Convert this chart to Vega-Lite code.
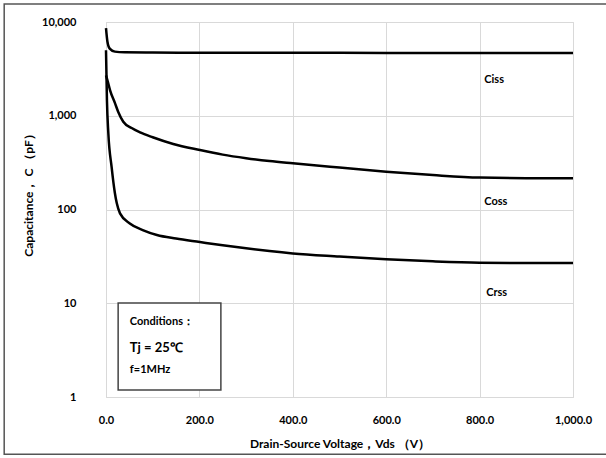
{
  "$schema": "https://vega.github.io/schema/vega-lite/v6.json",
  "width": 467,
  "height": 375,
  "autosize": {"type": "none"},
  "padding": {"left": 106, "top": 22, "right": 33, "bottom": 61},
  "background": "white",
  "config": {
    "font": "Lato",
    "view": {"stroke": "#d9d9d9", "strokeWidth": 1},
    "axis": {
      "domain": false,
      "ticks": false,
      "grid": true,
      "gridColor": "#d9d9d9",
      "gridWidth": 1,
      "labelFlush": false,
      "labelFont": "Lato",
      "labelFontWeight": "bold",
      "labelFontSize": 11,
      "labelColor": "#000",
      "titleFont": "Lato",
      "titleFontWeight": "bold",
      "titleFontSize": 12,
      "titleColor": "#000"
    }
  },
  "datasets": {
    "curves": [
      {"series": "Ciss", "v": 0, "c": 8600},
      {"series": "Ciss", "v": 3, "c": 6200},
      {"series": "Ciss", "v": 8, "c": 5200},
      {"series": "Ciss", "v": 19, "c": 4830},
      {"series": "Ciss", "v": 40, "c": 4750},
      {"series": "Ciss", "v": 100, "c": 4720},
      {"series": "Ciss", "v": 200, "c": 4700},
      {"series": "Ciss", "v": 400, "c": 4690},
      {"series": "Ciss", "v": 600, "c": 4680},
      {"series": "Ciss", "v": 800, "c": 4670},
      {"series": "Ciss", "v": 1000, "c": 4660},
      {"series": "Coss", "v": 0, "c": 2700},
      {"series": "Coss", "v": 4, "c": 2300},
      {"series": "Coss", "v": 8.6, "c": 1880},
      {"series": "Coss", "v": 19, "c": 1370},
      {"series": "Coss", "v": 26, "c": 1105},
      {"series": "Coss", "v": 37, "c": 864},
      {"series": "Coss", "v": 55, "c": 740},
      {"series": "Coss", "v": 73, "c": 665},
      {"series": "Coss", "v": 100, "c": 590},
      {"series": "Coss", "v": 144, "c": 500},
      {"series": "Coss", "v": 201, "c": 431},
      {"series": "Coss", "v": 250, "c": 385},
      {"series": "Coss", "v": 300, "c": 353},
      {"series": "Coss", "v": 350, "c": 329},
      {"series": "Coss", "v": 400, "c": 311},
      {"series": "Coss", "v": 500, "c": 280},
      {"series": "Coss", "v": 600, "c": 253},
      {"series": "Coss", "v": 700, "c": 233},
      {"series": "Coss", "v": 800, "c": 219},
      {"series": "Coss", "v": 900, "c": 216},
      {"series": "Coss", "v": 1000, "c": 216},
      {"series": "Crss", "v": 0, "c": 5000},
      {"series": "Crss", "v": 2, "c": 1470},
      {"series": "Crss", "v": 5, "c": 650},
      {"series": "Crss", "v": 12, "c": 285},
      {"series": "Crss", "v": 19, "c": 150},
      {"series": "Crss", "v": 23, "c": 117},
      {"series": "Crss", "v": 30, "c": 91},
      {"series": "Crss", "v": 51, "c": 71},
      {"series": "Crss", "v": 80, "c": 60},
      {"series": "Crss", "v": 109, "c": 53.5},
      {"series": "Crss", "v": 150, "c": 49},
      {"series": "Crss", "v": 201, "c": 45},
      {"series": "Crss", "v": 250, "c": 41.5},
      {"series": "Crss", "v": 300, "c": 38.5},
      {"series": "Crss", "v": 350, "c": 36},
      {"series": "Crss", "v": 400, "c": 34},
      {"series": "Crss", "v": 500, "c": 31.5},
      {"series": "Crss", "v": 600, "c": 29.4},
      {"series": "Crss", "v": 700, "c": 28},
      {"series": "Crss", "v": 800, "c": 27.1},
      {"series": "Crss", "v": 900, "c": 26.9},
      {"series": "Crss", "v": 1000, "c": 26.9}
    ],
    "labels": [
      {"label": "Ciss", "v": 810, "c": 2405},
      {"label": "Coss", "v": 810, "c": 120},
      {"label": "Crss", "v": 814, "c": 12.9}
    ],
    "box": [{"v1": 26, "v2": 246, "c1": 1.19, "c2": 10.07}],
    "frame": [{"v1": -218, "v2": 1170, "c1": 0.245, "c2": 15560}],
    "cond": [
      {"text": "Conditions：", "v": 51, "c": 6.31, "size": 11},
      {"text": "Tj = 25℃", "v": 51, "c": 3.33, "size": 13},
      {"text": "f=1MHz", "v": 51, "c": 1.94, "size": 11}
    ]
  },
  "layer": [
    {
      "data": {"name": "frame"},
      "mark": {"type": "rect", "fill": null, "fillOpacity": 0, "stroke": "#555", "strokeWidth": 1.5, "clip": false},
      "encoding": {
        "x": {"field": "v1", "type": "quantitative"},
        "x2": {"field": "v2"},
        "y": {"field": "c1", "type": "quantitative"},
        "y2": {"field": "c2"}
      }
    },
    {
      "data": {"name": "curves"},
      "mark": {"type": "line", "interpolate": "monotone", "strokeWidth": 2.5, "color": "#000"},
      "encoding": {
        "x": {
          "field": "v", "type": "quantitative",
          "scale": {"domain": [0, 1000], "nice": false, "zero": false},
          "axis": {"values": [0, 200, 400, 600, 800, 1000], "format": ",.1f", "labelPadding": 17, "title": "Drain-Source Voltage，Vds （V）", "titleY": 46, "titleBaseline": "middle"}
        },
        "y": {
          "field": "c", "type": "quantitative",
          "scale": {"type": "log", "domain": [1, 10000], "nice": false},
          "axis": {"values": [1, 10, 100, 1000, 10000], "format": ",", "labelPadding": 30, "title": "Capacitance， C （pF）", "titleX": -78, "titleY": 170, "titleBaseline": "middle", "titleAngle": -90}
        },
        "detail": {"field": "series"}
      }
    },
    {
      "data": {"name": "labels"},
      "mark": {"type": "text", "align": "left", "baseline": "middle", "fontWeight": "bold", "fontSize": 11, "font": "Lato", "color": "#000"},
      "encoding": {
        "x": {"field": "v", "type": "quantitative"},
        "y": {"field": "c", "type": "quantitative"},
        "text": {"field": "label"}
      }
    },
    {
      "data": {"name": "box"},
      "mark": {"type": "rect", "fill": "white", "stroke": "#444", "strokeWidth": 1.5},
      "encoding": {
        "x": {"field": "v1", "type": "quantitative"},
        "x2": {"field": "v2"},
        "y": {"field": "c1", "type": "quantitative"},
        "y2": {"field": "c2"}
      }
    },
    {
      "data": {"name": "cond"},
      "mark": {"type": "text", "align": "left", "baseline": "middle", "fontWeight": "bold", "font": "Lato", "color": "#000"},
      "encoding": {
        "x": {"field": "v", "type": "quantitative"},
        "y": {"field": "c", "type": "quantitative"},
        "text": {"field": "text"},
        "size": {"field": "size", "type": "quantitative", "scale": null}
      }
    }
  ]
}
